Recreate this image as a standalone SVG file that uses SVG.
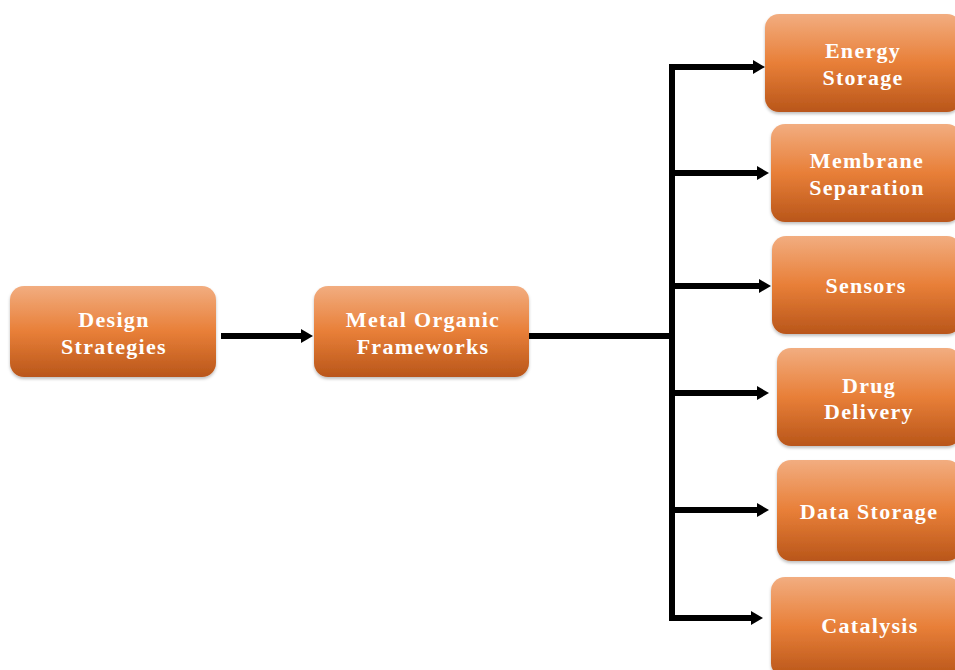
<svg xmlns="http://www.w3.org/2000/svg" width="955" height="670" viewBox="0 0 955 670">
<defs>
<linearGradient id="g" x1="0" y1="0" x2="0" y2="1">
<stop offset="0" stop-color="#f2ad80"/>
<stop offset="0.5" stop-color="#e87f38"/>
<stop offset="1" stop-color="#b9561a"/>
</linearGradient>
<marker id="ah" markerWidth="12" markerHeight="14" refX="0" refY="7" orient="auto" markerUnits="userSpaceOnUse" viewBox="0 0 12 14">
<path d="M0,0 L12,7 L0,14 Z" fill="#000"/>
</marker>
<filter id="sh" x="-10%" y="-10%" width="120%" height="130%">
<feDropShadow dx="0" dy="2" stdDeviation="1.5" flood-color="#000" flood-opacity="0.25"/>
</filter>
</defs>
<style>
.box{fill:url(#g);filter:url(#sh);}
.t{font-family:"Liberation Serif","Times New Roman",serif;font-weight:bold;font-size:22px;letter-spacing:1.3px;fill:#fff;text-anchor:middle;}
.c{stroke:#000;stroke-width:6;fill:none;}
</style>
<g id="connectors">
<path class="c" d="M221,336 H301" marker-end="url(#ah)"/>
<path class="c" d="M529,336 H672"/>
<path class="c" d="M672,620 V67 H753" marker-end="url(#ah)" stroke-linejoin="miter"/>
<path class="c" d="M672,173 H757" marker-end="url(#ah)"/>
<path class="c" d="M672,286 H759" marker-end="url(#ah)"/>
<path class="c" d="M672,393 H757" marker-end="url(#ah)"/>
<path class="c" d="M672,510 H757" marker-end="url(#ah)"/>
<path class="c" d="M669,618 H751" marker-end="url(#ah)"/>
</g>
<g id="design-strategies">
<rect class="box" x="10" y="286" width="206" height="91" rx="14"/>
<text class="t" x="114" y="327">Design</text>
<text class="t" x="114" y="354">Strategies</text>
</g>
<g id="mof">
<rect class="box" x="314" y="286" width="215" height="91" rx="14"/>
<text class="t" x="423" y="327">Metal Organic</text>
<text class="t" x="423" y="354">Frameworks</text>
</g>
<g id="energy-storage">
<rect class="box" x="765" y="14" width="196" height="98" rx="14"/>
<text class="t" x="863" y="58">Energy</text>
<text class="t" x="863" y="85">Storage</text>
</g>
<g id="membrane-separation">
<rect class="box" x="771" y="124" width="190" height="98" rx="14"/>
<text class="t" x="867" y="168">Membrane</text>
<text class="t" x="867" y="195">Separation</text>
</g>
<g id="sensors">
<rect class="box" x="772" y="236" width="189" height="98" rx="14"/>
<text class="t" x="866" y="293">Sensors</text>
</g>
<g id="drug-delivery">
<rect class="box" x="777" y="348" width="184" height="98" rx="14"/>
<text class="t" x="869" y="393">Drug</text>
<text class="t" x="869" y="419">Delivery</text>
</g>
<g id="data-storage">
<rect class="box" x="777" y="460" width="184" height="101" rx="14"/>
<text class="t" x="869" y="519">Data Storage</text>
</g>
<g id="catalysis">
<rect class="box" x="771" y="577" width="190" height="100" rx="14"/>
<text class="t" x="870" y="633">Catalysis</text>
</g>
</svg>
